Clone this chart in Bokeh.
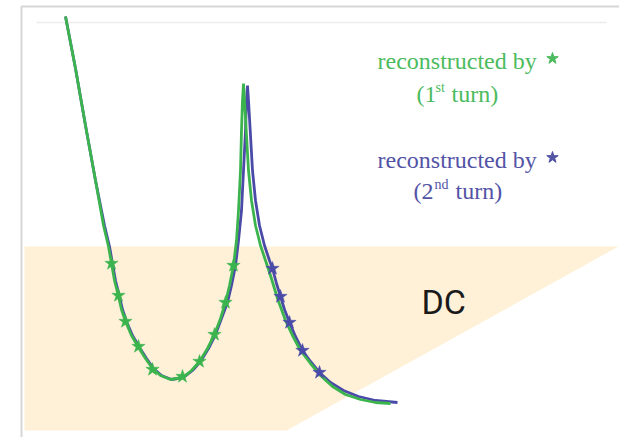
from bokeh.plotting import figure
from bokeh.models import Range1d, Label
from bokeh.embed import file_html
from bokeh.resources import INLINE

# Resonance response sampled along the sweep (x: sweep position, y: response level)
sweep_green = [65, 75, 85, 95, 103, 108, 111, 114, 118, 121, 125, 131, 138, 145, 152, 160, 170,
               182, 191, 199, 207, 214, 220, 225, 229, 233, 236, 238, 240, 241, 242, 243,
               244, 246, 248, 251, 255, 260, 265, 270, 277, 285, 292, 300, 310, 320, 332,
               345, 360, 375, 390]
resp_green = [421, 369, 312, 257, 212, 191, 174, 157, 141, 128, 116, 102, 90, 79, 69, 62, 58,
              60, 67, 76, 89, 103, 119, 135, 152, 172, 197, 227, 267, 307, 337, 354,
              337, 302, 267, 237, 212, 192, 177, 162, 139, 117, 102, 87, 74, 62, 51,
              43, 38, 35, 34]

sweep_blue = [65, 75, 85, 95, 104, 109, 112, 115, 119, 122, 126, 132, 139, 146, 153, 161, 171,
              183, 192, 200, 208, 215, 221, 227, 231, 235, 238, 241, 243, 245, 246, 247,
              248, 250, 252, 255, 259, 264, 269, 272, 276, 280, 284, 289, 295, 302, 310,
              319, 330, 343, 358, 375, 397]
resp_blue = [421, 369, 312, 257, 212, 191, 174, 157, 141, 128, 116, 102, 90, 79, 69, 62, 58,
             60, 67, 76, 89, 103, 119, 135, 152, 172, 197, 227, 267, 307, 337, 352,
             337, 302, 267, 237, 212, 192, 177, 169, 154, 141, 128, 115, 101, 87, 76,
             65, 55, 47, 41, 37, 35]

# Reconstruction points of each turn
star_x_green = [111, 118, 125, 138, 152, 182, 199, 214, 225, 233]
star_y_green = [174, 142, 116, 91, 68, 61, 76, 103, 135, 172]
star_x_blue = [272, 280, 289, 302, 319]
star_y_blue = [169, 141, 115, 87, 65]

# DC region outline
dc_x = [24, 618, 286, 24]
dc_y = [191, 191, 7, 7]

GREEN = "#3cb44e"
BLUE = "#4a4aa8"
GREEN_TXT = "#4cbb5e"
BLUE_TXT = "#5353a6"

p = figure(width=619, height=437, output_backend="svg", toolbar_location=None,
           x_range=Range1d(0, 619), y_range=Range1d(0, 437), min_border=0)
p.axis.visible = False
p.grid.visible = False
p.outline_line_color = None
p.background_fill_color = "white"

# panel frame
p.line([21, 21, 619], [0, 431, 431], line_color="#d6d6d6", line_width=2)
p.line([36, 606], [415, 415], line_color="#ececec", line_width=1.5)

p.patch(dc_x, dc_y, fill_color="#fef1d8", line_color=None)

p.line(sweep_blue, resp_blue, line_color=BLUE, line_width=2.8)
p.line(sweep_green, resp_green, line_color=GREEN, line_width=2.8)
p.scatter(star_x_green, star_y_green, marker="star", size=14, fill_color=GREEN,
          line_color=GREEN, line_width=0.5)
p.scatter(star_x_blue, star_y_blue, marker="star", size=14, fill_color=BLUE,
          line_color=BLUE, line_width=0.5)

p.add_layout(Label(x=421, y=136, text="DC", text_font="Roboto", text_font_size="34px",
                   text_color="#1a1a1a", text_baseline="middle"))

SERIF = "Liberation Serif"

def legend_block(y1, y2, color, num, sup, sup_x, turn_x, num_x):
    p.add_layout(Label(x=377, y=y1, text="reconstructed by", text_font=SERIF,
                       text_font_size="24px", text_color=color, text_baseline="middle"))
    p.scatter([552], [y1 + 2], marker="star", size=12, fill_color=color, line_color=color)
    p.add_layout(Label(x=num_x, y=y2, text="(" + num, text_font=SERIF,
                       text_font_size="24px", text_color=color, text_baseline="middle"))
    p.add_layout(Label(x=sup_x, y=y2 + 6, text=sup, text_font=SERIF,
                       text_font_size="14px", text_color=color, text_baseline="middle"))
    p.add_layout(Label(x=turn_x, y=y2, text="turn)", text_font=SERIF,
                       text_font_size="24px", text_color=color, text_baseline="middle"))

legend_block(377, 344, GREEN_TXT, "1", "st", 435, 451, 416)
legend_block(278, 247, BLUE_TXT, "2", "nd", 434, 455, 413)

open("out.html", "w").write(file_html(p, INLINE))
